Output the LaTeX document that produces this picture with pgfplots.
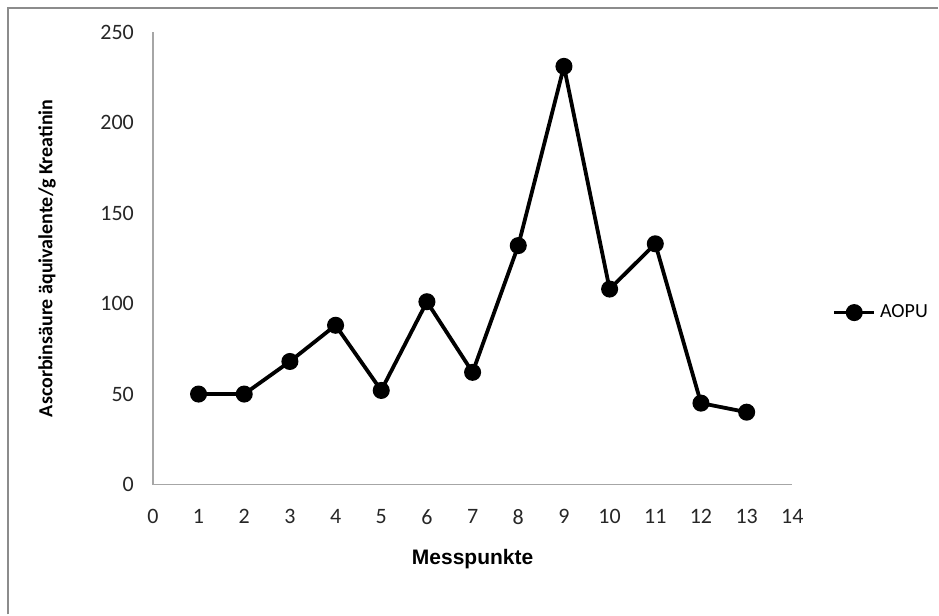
\documentclass[border=0pt]{standalone}
\usepackage{pgfplots}
\pgfplotsset{compat=1.18}
\usepackage{fontspec}
\setmainfont{Carlito}
\newfontfamily\arialfont{Liberation Sans}

\begin{document}
\begin{tikzpicture}
\begin{axis}[
  scale only axis,
  width=320pt, height=226.5pt,
  xmin=0, xmax=14, ymin=0, ymax=250,
  xtick={0,1,...,14},
  ytick={0,50,...,250},
  axis x line*=bottom, axis y line*=left,
  axis line style={draw=black!35, line width=0.8pt, -},
  major tick length=0pt,
  tick label style={font=\fontsize{11}{12}\selectfont, text=black!85},
  /pgf/number format/assume math mode=true,
  xticklabel style={yshift=-9pt},
  yticklabel style={xshift=-6pt},
  xlabel={\arialfont\bfseries Messpunkte},
  ylabel={\textbf{Ascorbinsäure äquivalente/g Kreatinin}},
  xlabel style={font=\fontsize{10.5}{12}\selectfont, at={(0.5,0)}, anchor=north, yshift=-29pt},
  ylabel style={font=\fontsize{10}{11}\selectfont, at={(0,0.5)}, anchor=south, yshift=45pt},
  legend style={at={(1.062,0.38)}, anchor=west, draw=none, fill=none,
    font=\fontsize{10}{11}\selectfont, inner sep=0pt},
  legend image code/.code={
    \draw[#1, mark=none] (0pt,0pt) -- (20pt,0pt);
    \draw[#1, only marks] plot coordinates {(10pt,0pt)};
  },
  clip=false,
]
\addplot[black, line width=1.9pt, mark=*, mark size=3.3pt] coordinates {
  (1,50) (2,50) (3,68) (4,88) (5,52) (6,101) (7,62)
  (8,132) (9,231) (10,108) (11,133) (12,45) (13,40)
};
\legend{AOPU}
\end{axis}
\draw[black!45, line width=0.8pt] (-72.5pt,-65pt) -- (-72.5pt,238.5pt) -- (393pt,238.5pt);
\path[use as bounding box] (-76.5pt,-65pt) rectangle (393pt,242.5pt);
\end{tikzpicture}
\end{document}
